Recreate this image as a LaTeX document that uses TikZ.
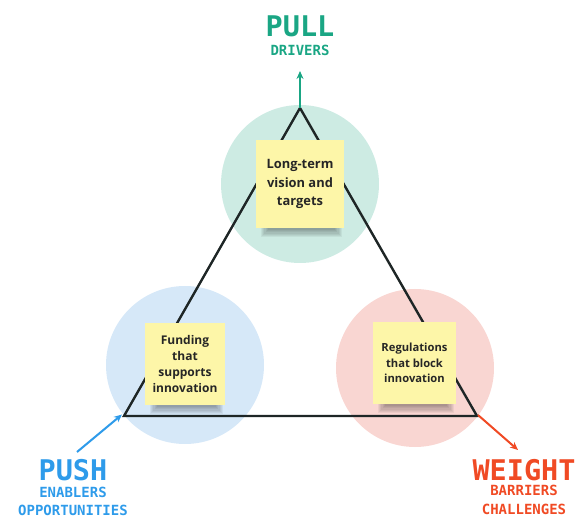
\documentclass[tikz,border=0pt]{standalone}
\usepackage{fontspec}
\setmainfont{Open Sans}
\newfontfamily\monob{DejaVu Sans Mono}[BoldFont={DejaVu Sans Mono Bold}]
\usetikzlibrary{arrows.meta}
\definecolor{pullc}{HTML}{1AA684}
\definecolor{pushc}{HTML}{2E9BEA}
\definecolor{weightc}{HTML}{F04A24}
\definecolor{pullbg}{HTML}{CDEBE3}
\definecolor{pushbg}{HTML}{D6E8F8}
\definecolor{weightbg}{HTML}{F9D6D2}
\definecolor{sticky}{HTML}{FDF6A8}
\definecolor{inkc}{HTML}{1E2626}
\definecolor{notetext}{HTML}{262626}
\pgfdeclarelayer{bg}
\pgfdeclarelayer{shad}
\pgfsetlayers{bg,shad,main}
\newcommand{\softshade}[1]{%
  \begin{pgfonlayer}{shad}
  \foreach \i in {0,...,6}{
    \fill[black,opacity=0.05] ([shift={(5+1.2*\i,-12)}]#1.south west)
      rectangle ([shift={(-2-1.2*\i,9-1.2*\i)}]#1.south east);
  }
  \end{pgfonlayer}}
\begin{document}
\begin{tikzpicture}[x=1pt,y=-1pt,
  zone/.style={circle,minimum size=158pt,inner sep=0pt},
  note/.style={fill=sticky,inner sep=0pt,align=center,text=notetext},
  tri/.style={draw=inkc,line width=2.4pt,line join=miter},
  pointer/.style={line width=2pt,-{Stealth[length=8pt,width=7pt]}},
  bigtitle/.style={anchor=base,inner sep=0pt,font=\monob\bfseries\fontsize{28.5}{30}\selectfont},
  subtitle/.style={anchor=base,inner sep=0pt,font=\monob\bfseries\fontsize{14}{16}\selectfont}]
\useasboundingbox (0,0) rectangle (581,518);
% circles
\begin{pgfonlayer}{bg}
\node[zone,fill=pullbg] (cpull) at (300,184) {};
\node[zone,fill=pushbg] (cpush) at (185,365) {};
\node[zone,fill=weightbg] (cweight) at (415,368) {};
\end{pgfonlayer}
% triangle
\coordinate (vtop) at (300,108);
\coordinate (vleft) at (124,416);
\coordinate (vright) at (477,416);
\draw[tri] (vtop) -- (vleft) -- (vright) -- cycle;
% sticky notes
\node[note,minimum width=88pt,minimum height=88pt,
  font=\bfseries\fontsize{12.9}{18.5}\selectfont] (nvision) at (300,184)
  {Long-term\\vision and\\targets};
\node[note,minimum width=80pt,minimum height=82pt,
  font=\bfseries\fontsize{12}{16.2}\selectfont] (nfunding) at (185,364)
  {Funding\\that\\supports\\innovation};
\node[note,minimum width=83pt,minimum height=82pt,
  font=\bfseries\fontsize{11.2}{15.6}\selectfont] (nreg) at (414.5,363)
  {Regulations\\that block\\innovation};
\softshade{nvision}
\softshade{nfunding}
\softshade{nreg}
% titles
\node[bigtitle,text=pullc] (tpull) at (300,37) {PULL};
\node[subtitle,text=pullc] (spull) at (300,56) {DRIVERS};
\node[bigtitle,text=pushc] (tpush) at (73,480.5) {PUSH};
\node[subtitle,text=pushc] (spush1) at (73,497.5) {ENABLERS};
\node[subtitle,text=pushc] (spush2) at (73,515.5) {OPPORTUNITIES};
\node[bigtitle,text=weightc] (tweight) at (524,480.5) {WEIGHT};
\node[subtitle,text=weightc] (sweight1) at (524,495.5) {BARRIERS};
\node[subtitle,text=weightc] (sweight2) at (524,514) {CHALLENGES};
% arrows
\coordinate (apull) at (300,71);
\coordinate (apush) at (77,452);
\coordinate (aweight) at (518,450);
\draw[pointer,pullc] (vtop) -- (apull);
\draw[pointer,pushc] (apush) -- ([shift={(-2pt,1.5pt)}]vleft);
\draw[pointer,weightc] ([shift={(1pt,1pt)}]vright) -- (aweight);
\end{tikzpicture}
\end{document}
